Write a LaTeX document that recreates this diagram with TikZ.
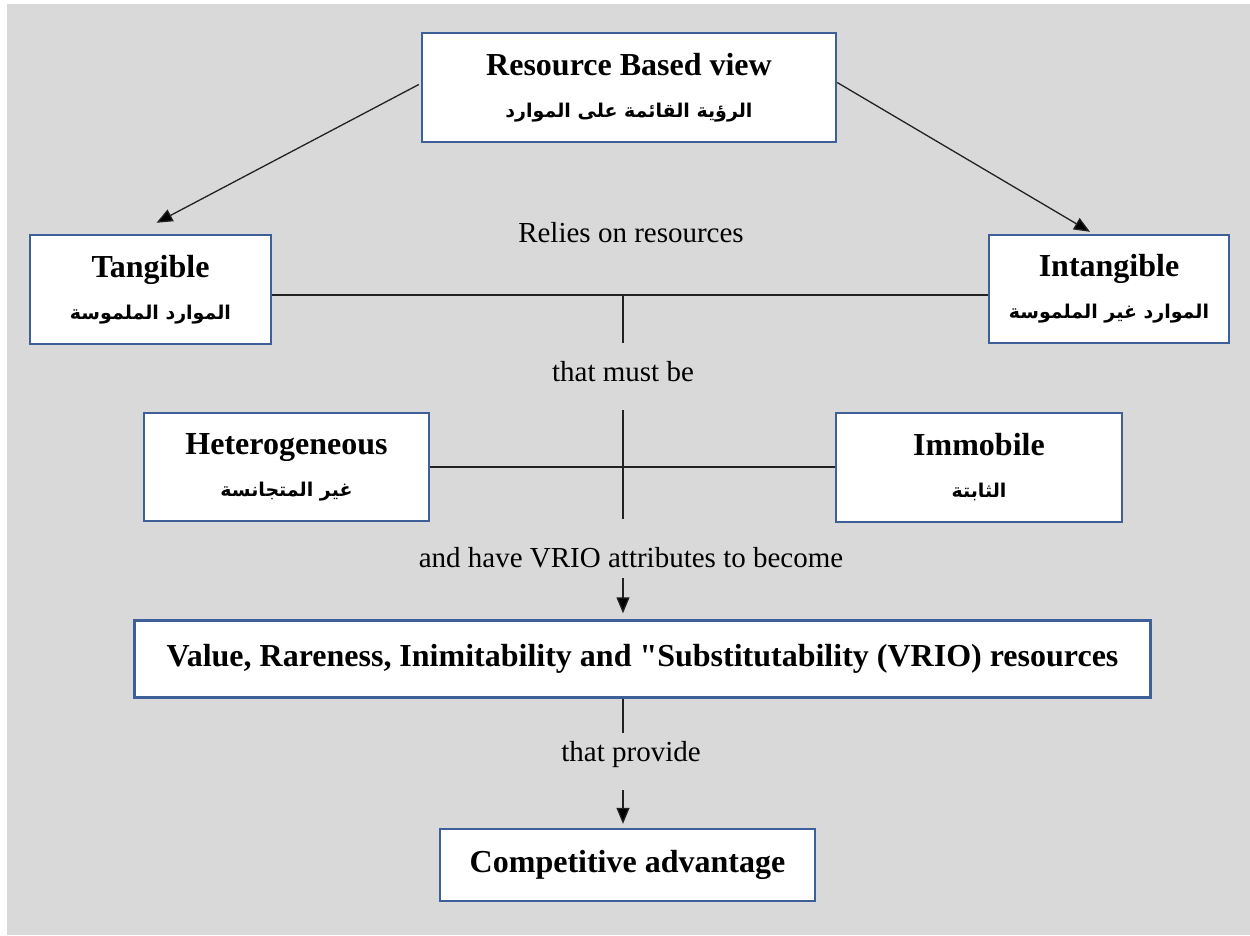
\documentclass[tikz,border=0pt]{standalone}
\usepackage{fontspec}
\setmainfont{Liberation Serif}
\newfontfamily\arabicfont[Script=Arabic]{DejaVu Sans}
\TeXXeTstate=1
\usetikzlibrary{arrows.meta}
\definecolor{bgc}{HTML}{D9D9D9}
\definecolor{frame}{HTML}{3F5F98}
\definecolor{wire}{HTML}{222222}
\newcommand{\ar}[1]{{\arabicfont\bfseries\fontsize{19}{22}\selectfont\beginR #1\endR}}
% a plain straight double quote (no TeX ligature mapping)
\newcommand{\straightquote}{{\addfontfeatures{Ligatures=TeXOff}"}}
\tikzset{
  card/.style={draw=frame, line width=2.4pt, fill=white, align=center,
    font=\bfseries\fontsize{32}{38}\selectfont, inner sep=0pt},
  caption/.style={font=\fontsize{29}{34}\selectfont, inner sep=0pt},
  wire/.style={draw=wire, line width=1.3pt},
  arr/.style={wire, -{Triangle[length=16pt,width=13pt,fill=black]}},
}
\begin{document}
\begin{tikzpicture}[x=1pt,y=-1pt]
\useasboundingbox (0,0) rectangle (1250,935);
\fill[bgc] (7,4) rectangle (1250,935);

% boxes
\node[card, minimum width=414pt, minimum height=109pt] (rbv) at (629,87.5)
  {Resource Based view\\[4pt]\ar{الرؤية القائمة على الموارد}};
\node[card, minimum width=241pt, minimum height=109pt] (tang) at (150.5,289.5)
  {Tangible\\[4pt]\ar{الموارد الملموسة}};
\node[card, minimum width=240pt, minimum height=108pt] (intg) at (1109,289)
  {Intangible\\[4pt]\ar{الموارد غير الملموسة}};
\node[card, minimum width=285pt, minimum height=108pt] (het) at (286.5,467)
  {Heterogeneous\\[4pt]\ar{غير المتجانسة}};
\node[card, minimum width=286pt, minimum height=109pt] (imm) at (979,467.5)
  {Immobile\\[4pt]\ar{الثابتة}};
\node[card, minimum width=1016pt, minimum height=77pt] (vrio) at (642.5,659)
  {Value, Rareness, Inimitability and \straightquote Substitutability (VRIO) resources};
\node[card, minimum width=375pt, minimum height=72pt] (comp) at (627.5,865)
  {Competitive advantage};

% captions
\node[caption] (relies) at (631,233) {Relies on resources};
\node[caption] (must) at (623,372) {that must be};
\node[caption] (attr) at (631,558) {and have VRIO attributes to become};
\node[caption] (prov) at (631,755) {that provide};

% junction points on the spine
\coordinate (j1) at (623,295);
\coordinate (j1b) at (623,343);
\coordinate (j2a) at (623,410);
\coordinate (j2) at (623,467);
\coordinate (j2b) at (623,519);
\coordinate (j3) at (623,578);
\coordinate (j4) at (623,733);
\coordinate (j5) at (623,790);

% connectors
\draw[arr] (rbv.west) ++(-2pt,3pt) coordinate (ls) -- ([xshift=6pt,yshift=11pt]tang.north);
\draw[arr] (rbv.east) ++(0pt,5pt) coordinate (rs) -- ([xshift=-19pt,yshift=2pt]intg.north);
\draw[wire] (tang.east |- j1) -- (intg.west |- j1);
\draw[wire] (j1) -- (j1b);
\draw[wire] (het.east |- j2) -- (imm.west |- j2);
\draw[wire] (j2a) -- (j2b);
\draw[arr, shorten >=6pt] (j3) -- (j3 |- vrio.north);
\draw[wire] (j3 |- vrio.south) -- (j4);
\draw[arr, shorten >=4pt] (j5) -- (j5 |- comp.north);
\end{tikzpicture}
\end{document}
